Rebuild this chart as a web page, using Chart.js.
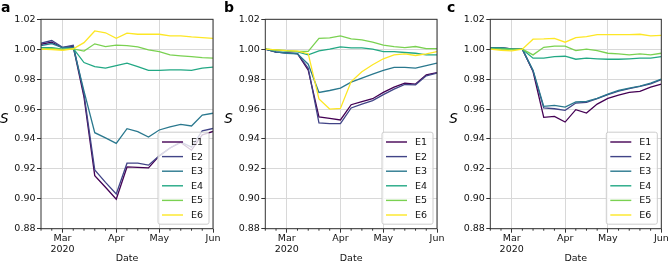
<!DOCTYPE html>
<html>
<head>
<meta charset="utf-8">
<script src="https://cdn.jsdelivr.net/npm/chart.js@4"></script>
<style>
  html, body { margin: 0; padding: 0; background: #fff; }
  #wrap { position: relative; width: 669px; height: 264px; }
  #wrap canvas { position: absolute; top: 0; }
</style>
</head>
<body>
<div id="wrap">
  <canvas id="pa" width="223" height="264" style="left:0px"></canvas>
  <canvas id="pb" width="223" height="264" style="left:223px"></canvas>
  <canvas id="pc" width="223" height="264" style="left:446px"></canvas>
</div>
<script>
// weekly index on x, months ticked at the week holding the 1st
const weeks = [0, 1, 2, 3, 4, 5, 6, 7, 8, 9, 10, 11, 12, 13, 14, 15, 16];
const monthTicks = [2, 7, 11, 16];
const monthLabels = [['Mar', '2020'], 'Apr', 'May', 'Jun'];
const yTicks = [0.88, 0.90, 0.92, 0.94, 0.96, 0.98, 1.00, 1.02];
const seriesNames = ['E1', 'E2', 'E3', 'E4', 'E5', 'E6'];
const seriesColors = ['#440154', '#414487', '#2a788e', '#22a884', '#7ad151', '#fde725'];

// panel a
const aE1 = [1.0033, 1.0047, 1.0010, 1.0018, 0.9680, 0.9155, 0.9077, 0.8997, 0.9213, 0.9210, 0.9207, 0.9287, 0.9340, 0.9377, 0.9325, 0.9427, 0.9450];
const aE2 = [1.0040, 1.0058, 1.0012, 1.0027, 0.9700, 0.9193, 0.9110, 0.9032, 0.9238, 0.9238, 0.9225, 0.9287, 0.9340, 0.9380, 0.9345, 0.9454, 0.9470];
const aE3 = [1.0024, 1.0038, 1.0010, 1.0013, 0.9720, 0.9442, 0.9407, 0.9370, 0.9469, 0.9449, 0.9413, 0.9460, 0.9480, 0.9498, 0.9487, 0.9560, 0.9572];
const aE4 = [1.0010, 1.0010, 1.0000, 1.0005, 0.9911, 0.9884, 0.9873, 0.9891, 0.9907, 0.9884, 0.9858, 0.9858, 0.9862, 0.9862, 0.9858, 0.9873, 0.9880];
const aE5 = [1.0000, 1.0005, 0.9998, 1.0002, 0.9987, 1.0036, 1.0018, 1.0027, 1.0024, 1.0016, 0.9996, 0.9984, 0.9962, 0.9956, 0.9951, 0.9944, 0.9940];
const aE6 = [1.0000, 0.9998, 0.9993, 1.0003, 1.0044, 1.0122, 1.0110, 1.0073, 1.0107, 1.0100, 1.0100, 1.0100, 1.0089, 1.0089, 1.0082, 1.0078, 1.0073];

// panel b
const bE1 = [1.0000, 0.9980, 0.9975, 0.9970, 0.9860, 0.9547, 0.9538, 0.9527, 0.9629, 0.9649, 0.9669, 0.9711, 0.9747, 0.9773, 0.9767, 0.9829, 0.9844];
const bE2 = [1.0000, 0.9980, 0.9975, 0.9970, 0.9873, 0.9507, 0.9502, 0.9502, 0.9607, 0.9633, 0.9656, 0.9696, 0.9733, 0.9764, 0.9762, 0.9822, 0.9840];
const bE3 = [1.0000, 0.9982, 0.9973, 0.9969, 0.9900, 0.9711, 0.9724, 0.9740, 0.9780, 0.9807, 0.9833, 0.9858, 0.9878, 0.9878, 0.9873, 0.9891, 0.9907];
const bE4 = [1.0000, 0.9993, 0.9987, 0.9982, 0.9962, 0.9989, 1.0000, 1.0016, 1.0009, 1.0009, 1.0000, 0.9984, 0.9984, 0.9978, 0.9973, 0.9962, 0.9962];
const bE5 = [1.0000, 0.9995, 0.9990, 0.9985, 0.9985, 1.0073, 1.0076, 1.0089, 1.0069, 1.0062, 1.0047, 1.0027, 1.0018, 1.0011, 1.0018, 1.0004, 1.0004];
const bE6 = [1.0000, 0.9995, 0.9990, 0.9987, 0.9970, 0.9667, 0.9600, 0.9604, 0.9784, 0.9850, 0.9896, 0.9936, 0.9962, 0.9969, 0.9958, 0.9969, 0.9984];

// panel c
const cE1 = [1.0009, 1.0009, 1.0002, 1.0000, 0.9851, 0.9544, 0.9551, 0.9513, 0.9596, 0.9573, 0.9633, 0.9671, 0.9693, 0.9711, 0.9718, 0.9747, 0.9767];
const cE2 = [1.0009, 1.0009, 1.0002, 1.0000, 0.9855, 0.9607, 0.9602, 0.9591, 0.9640, 0.9644, 0.9669, 0.9696, 0.9720, 0.9736, 0.9751, 0.9769, 0.9796];
const cE3 = [1.0009, 1.0009, 1.0002, 1.0000, 0.9860, 0.9618, 0.9624, 0.9613, 0.9647, 0.9651, 0.9671, 0.9700, 0.9724, 0.9740, 0.9753, 0.9773, 0.9800];
const cE4 = [1.0007, 1.0007, 1.0000, 1.0000, 0.9940, 0.9940, 0.9951, 0.9953, 0.9933, 0.9940, 0.9936, 0.9933, 0.9933, 0.9936, 0.9940, 0.9940, 0.9951];
const cE5 = [1.0000, 1.0000, 0.9998, 1.0000, 0.9962, 1.0013, 1.0020, 1.0020, 0.9991, 1.0000, 0.9991, 0.9973, 0.9969, 0.9962, 0.9969, 0.9962, 0.9973];
const cE6 = [1.0000, 0.9993, 0.9989, 1.0000, 1.0067, 1.0069, 1.0073, 1.0047, 1.0078, 1.0084, 1.0098, 1.0098, 1.0098, 1.0098, 1.0100, 1.0089, 1.0093];

Chart.defaults.font.family = "'DejaVu Sans', sans-serif";
Chart.defaults.font.size = 9.5;
Chart.defaults.color = '#111';

const AXIS = '#333';
const GRID = '#d8d8d8';

// frame, minor ticks, letter, y label and boxed legend
const decor = {
  id: 'decor',
  afterDraw(chart, args, opts) {
    const { ctx, chartArea: a, scales } = chart;
    ctx.save();
    ctx.strokeStyle = AXIS;
    ctx.lineWidth = 1;
    ctx.strokeRect(a.left, a.top, a.right - a.left, a.bottom - a.top);

    weeks.forEach(w => {
      if (monthTicks.includes(w)) return;
      const x = scales.x.getPixelForValue(w);
      ctx.beginPath();
      ctx.moveTo(x, a.bottom);
      ctx.lineTo(x, a.bottom + 2);
      ctx.stroke();
    });

    ctx.fillStyle = '#000';
    ctx.textBaseline = 'alphabetic';
    ctx.textAlign = 'left';
    ctx.font = "bold 14px 'DejaVu Sans'";
    ctx.fillText(opts.letter, 1, 12);
    ctx.font = "italic 13.5px 'DejaVu Sans'";
    ctx.fillText('S', a.left - 41, 123);

    // legend box in lower right
    const w = 51, h = 92;
    const bx = a.right - 4 - w, by = a.bottom - 4.5 - h;
    ctx.fillStyle = 'rgba(255,255,255,0.8)';
    ctx.strokeStyle = '#cccccc';
    ctx.beginPath();
    ctx.roundRect(bx, by, w, h, 2);
    ctx.fill();
    ctx.stroke();
    ctx.font = "9.5px 'DejaVu Sans'";
    ctx.textBaseline = 'middle';
    chart.data.datasets.forEach((ds, i) => {
      const y = by + 9.8 + i * 14.6;
      ctx.strokeStyle = ds.borderColor;
      ctx.lineWidth = 1.4;
      ctx.beginPath();
      ctx.moveTo(bx + 4, y);
      ctx.lineTo(bx + 25, y);
      ctx.stroke();
      ctx.fillStyle = '#111';
      ctx.fillText(ds.label, bx + 33, y + 0.5);
    });
    ctx.restore();
  }
};

function makePanel(canvasId, letter, series, plotLeft, plotRight) {
  const datasets = series.map((vals, i) => ({
    label: seriesNames[i],
    data: vals.map((v, k) => ({ x: weeks[k], y: v })),
    borderColor: seriesColors[i],
    borderWidth: 1.3,
    pointRadius: 0,
    tension: 0,
    fill: false,
    order: series.length - i
  }));

  new Chart(document.getElementById(canvasId), {
    type: 'line',
    data: { datasets },
    options: {
      responsive: false,
      animation: false,
      devicePixelRatio: 1,
      layout: { padding: { left: 0, right: 223 - plotRight, top: 19.3, bottom: 0 } },
      plugins: {
        legend: { display: false },
        tooltip: { enabled: false },
        decor: { letter }
      },
      scales: {
        x: {
          type: 'linear',
          min: weeks[0],
          max: weeks[weeks.length - 1],
          afterFit: s => { s.height = 35.3; },
          afterBuildTicks: s => { s.ticks = monthTicks.map(v => ({ value: v })); },
          ticks: {
            autoSkip: false,
            maxRotation: 0,
            padding: 0,
            callback: v => monthLabels[monthTicks.indexOf(v)]
          },
          grid: { color: GRID, tickColor: AXIS, tickLength: 4, drawTicks: true },
          border: { display: false },
          title: { display: true, text: 'Date', padding: { top: 0, bottom: 0 } }
        },
        y: {
          min: yTicks[0],
          max: yTicks[yTicks.length - 1],
          afterFit: s => { s.width = plotLeft; },
          afterBuildTicks: s => { s.ticks = yTicks.map(v => ({ value: v })); },
          ticks: { padding: 1.5, callback: v => v.toFixed(2) },
          grid: { color: GRID, tickColor: AXIS, tickLength: 4 },
          border: { display: false }
        }
      }
    },
    plugins: [decor]
  });
}

makePanel('pa', 'a', [aE1, aE2, aE3, aE4, aE5, aE6], 41, 213);
makePanel('pb', 'b', [bE1, bE2, bE3, bE4, bE5, bE6], 42.3, 214);
makePanel('pc', 'c', [cE1, cE2, cE3, cE4, cE5, cE6], 44.3, 215.3);
</script>
</body>
</html>
